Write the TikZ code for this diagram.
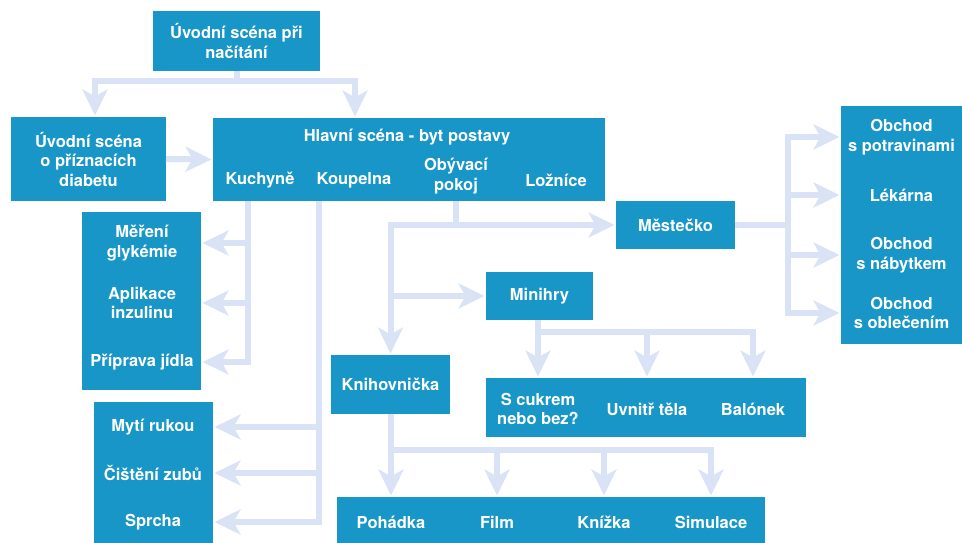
\documentclass[tikz,border=0pt]{standalone}
\usepackage{fontspec}
\setmainfont{TeX Gyre Heros}
\usetikzlibrary{arrows.meta}
\definecolor{boxblue}{RGB}{25,150,200}
\definecolor{linkblue}{RGB}{217,227,245}
\begin{document}
\begin{tikzpicture}[x=1pt,y=-1pt,
  box/.style={fill=boxblue, inner sep=0pt, outer sep=0pt, text=white,
    font=\fontsize{16.5}{19.5}\selectfont\bfseries, align=center},
  lbl/.style={text=white, font=\fontsize{16.5}{19.5}\selectfont\bfseries,
    align=center, inner sep=0pt},
  link/.style={draw=linkblue, line width=6pt, shorten >=1.5pt,
    -{Stealth[length=26pt,width=25pt,inset=7pt]}}]
\useasboundingbox (0,0) rectangle (962,543);

% ---------- boxes ----------
\node[box, minimum width=167pt, minimum height=60pt] (load) at (236.5,41)
  {Úvodní scéna při\\načítání};
\node[box, minimum width=155pt, minimum height=84pt] (symp) at (88.5,159)
  {Úvodní scéna\\o příznacích\\diabetu};
\node[box, minimum width=392pt, minimum height=83pt] (main) at (409,159.5) {};
\node[box, minimum width=119pt, minimum height=178pt] (kitchen) at (141.5,301) {};
\node[box, minimum width=119pt, minimum height=145pt] (bath) at (153.5,474.5) {};
\node[box, minimum width=119pt, minimum height=59pt] (library) at (390.5,384.5)
  {Knihovnička};
\node[box, minimum width=107pt, minimum height=48pt] (minigames) at (539.5,296)
  {Minihry};
\node[box, minimum width=320pt, minimum height=59pt] (games) at (646,407.5) {};
\node[box, minimum width=428pt, minimum height=50pt] (books) at (551,522) {};
\node[box, minimum width=119pt, minimum height=48pt] (town) at (675.5,225)
  {Městečko};
\node[box, minimum width=123pt, minimum height=238pt] (shops) at (902.5,225) {};

% ---------- labels inside the shared boxes ----------
\node[lbl] (title) at (407,137) {Hlavní scéna - byt postavy};
\node[lbl] (kuch) at (260,180) {Kuchyně};
\node[lbl] (koup) at (354,180) {Koupelna};
\node[lbl] (liv) at (456,176) {Obývací\\pokoj};
\node[lbl] (bed) at (556,180) {Ložníce};

\node[lbl] (glyc) at (142,243) {Měření\\glykémie};
\node[lbl] (insulin) at (142,303) {Aplikace\\inzulinu};
\node[lbl] (food) at (142,362) {Příprava jídla};

\node[lbl] (hands) at (153,427) {Mytí rukou};
\node[lbl] (teeth) at (153,473) {Čištění zubů};
\node[lbl] (shower) at (153,522) {Sprcha};

\node[lbl] (sugar) at (538,409) {S cukrem\\nebo bez?};
\node[lbl] (inside) at (647,409) {Uvnitř těla};
\node[lbl] (balloon) at (753,409) {Balónek};

\node[lbl] (tale) at (391,522) {Pohádka};
\node[lbl] (film) at (497,522) {Film};
\node[lbl] (book) at (604,522) {Knížka};
\node[lbl] (sim) at (711,522) {Simulace};

\node[lbl] (grocery) at (901.5,137) {Obchod\\s potravinami};
\node[lbl] (pharmacy) at (901.5,195) {Lékárna};
\node[lbl] (furniture) at (901.5,255) {Obchod\\s nábytkem};
\node[lbl] (clothes) at (901.5,313) {Obchod\\s oblečením};

% ---------- junction points ----------
\coordinate (splitL) at (95,81);
\coordinate (splitR) at (355,81);
\coordinate (kx) at (248,0);
\coordinate (bx) at (319,0);
\coordinate (mg) at (0,332);
\coordinate (lb) at (0,450);
\coordinate (tj) at (788,0);

% ---------- connectors ----------
% loading scene
\draw[link] (load.south) |- (splitL) -- (splitL |- symp.north);
\draw[link] (load.south) |- (splitR) -- (splitR |- main.north);
\draw[link] (symp.east) -- (main.west);

% kitchen
\draw[link] (kx |- main.south) |- (kitchen.east |- food);
\draw[link] (kx |- glyc) -- (kitchen.east |- glyc);
\draw[link] (kx |- insulin) -- (kitchen.east |- insulin);

% bathroom
\draw[link] (bx |- main.south) |- (bath.east |- shower);
\draw[link] (bx |- hands) -- (bath.east |- hands);
\draw[link] (bx |- teeth) -- (bath.east |- teeth);

% living room
\draw[link] (main.south -| liv) |- (town.west);
\draw[link] (main.south -| liv) |- (library.north |- town.west) -- (library.north);
\draw[link] (library.north |- minigames.west) -- (minigames.west);

% mini games
\draw[link] (minigames.south -| sugar) -- (sugar |- games.north);
\draw[link] (minigames.south -| sugar) |- (balloon |- mg) -- (balloon |- games.north);
\draw[link] (inside |- mg) -- (inside |- games.north);

% bookshelf
\draw[link] (library.south -| tale) -- (tale |- books.north);
\draw[link] (library.south -| tale) |- (sim |- lb) -- (sim |- books.north);
\draw[link] (film |- lb) -- (film |- books.north);
\draw[link] (book |- lb) -- (book |- books.north);

% town
\draw[link] (town.east) -| (tj |- grocery) -- (shops.west |- grocery);
\draw[link] (town.east) -| (tj |- clothes) -- (shops.west |- clothes);
\draw[link] (tj |- pharmacy) -- (shops.west |- pharmacy);
\draw[link] (tj |- furniture) -- (shops.west |- furniture);
\end{tikzpicture}
\end{document}
